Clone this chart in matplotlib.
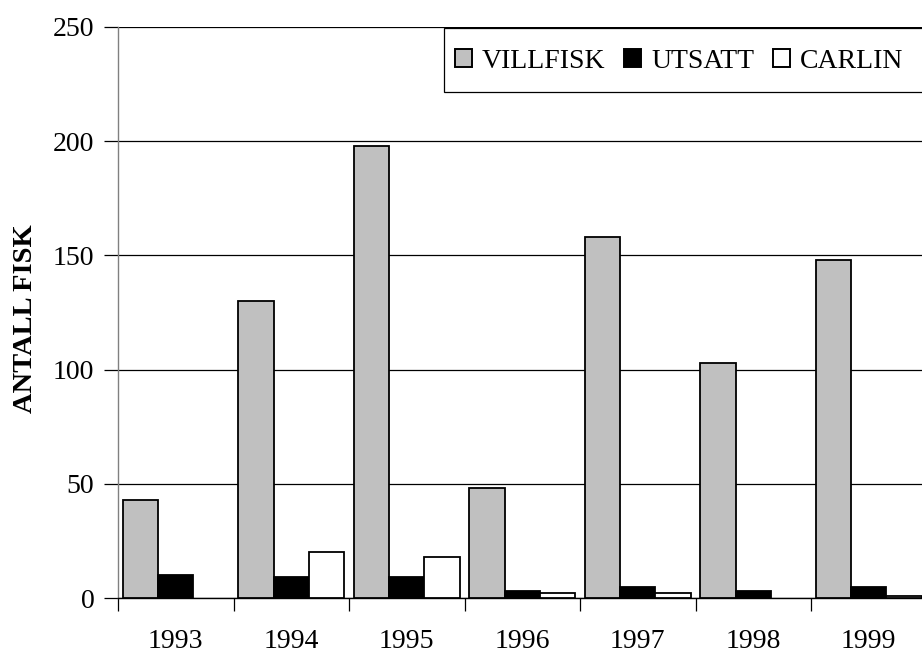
import matplotlib

matplotlib.use("Agg")

import matplotlib.pyplot as plt
import numpy as np
from matplotlib.patches import Patch, Rectangle

YEARS = ["1993", "1994", "1995", "1996", "1997", "1998", "1999"]
VILLFISK = [43, 130, 198, 48, 158, 103, 148]
UTSATT = [10, 9, 9, 3, 5, 3, 5]
CARLIN = [0, 20, 18, 2, 2, 0, 1]

SERIES = [
    ("VILLFISK", VILLFISK, "#c0c0c0"),
    ("UTSATT", UTSATT, "#000000"),
    ("CARLIN", CARLIN, "#ffffff"),
]


def main() -> None:
    plt.rcParams.update(
        {
            "font.family": ["Liberation Serif", "DejaVu Serif"],
            "font.size": 20,
        }
    )

    W, H = 922, 653
    fig = plt.figure(figsize=(W / 100, H / 100), dpi=100)
    left, right, top, bottom = 118, 926.5, 27, 598
    ax = fig.add_axes(
        [left / W, 1 - bottom / H, (right - left) / W, (bottom - top) / H]
    )

    x = np.arange(len(YEARS))
    width = 0.307
    handles = []
    for i, (name, values, color) in enumerate(SERIES):
        values = np.asarray(values, dtype=float)
        # zero-height bars leave no outline in the original
        lw = np.where(values > 0, 1.3, 0.0)
        ax.bar(
            x + (i - 1) * width,
            values,
            width=width,
            color=color,
            edgecolor="black",
            linewidth=lw,
            zorder=3,
        )
        handles.append(Patch(facecolor=color, edgecolor="black", linewidth=1.4, label=name))

    ax.set_xlim(-0.5, len(YEARS) - 0.5)
    ax.set_ylim(0, 250)
    ax.set_yticks(np.arange(0, 251, 50))
    ax.yaxis.grid(True, color="black", linewidth=0.9, zorder=0)
    ax.set_axisbelow(True)

    ax.set_xticks(np.arange(-0.5, len(YEARS), 1.0))
    ax.set_xticklabels([])
    ax.set_xticks(x, minor=True)
    ax.set_xticklabels(YEARS, minor=True)
    ax.tick_params(axis="x", which="major", direction="out", length=9, width=0.9)
    ax.tick_params(axis="x", which="minor", length=0, pad=22)
    ax.tick_params(axis="y", direction="out", length=10, width=0.9, pad=7)

    for side in ("top", "right"):
        ax.spines[side].set_visible(False)
    ax.spines["left"].set_color("#808080")
    ax.spines["left"].set_linewidth(1.0)
    ax.spines["bottom"].set_linewidth(1.0)

    ax.set_ylabel("ANTALL FISK", fontweight="bold", fontsize=20.5, labelpad=11)
    ax.yaxis.label.set_y(0.4895)

    # legend box: its right side runs off the image in the original
    ax.add_patch(
        Rectangle(
            (444 / W, 1 - 92 / H),
            (960 - 444) / W,
            64 / H,
            transform=fig.transFigure,
            facecolor="white",
            edgecolor="black",
            linewidth=0.9,
            clip_on=False,
            zorder=8,
        )
    )
    leg = ax.legend(
        handles=handles,
        loc="center left",
        bbox_to_anchor=(455 / W, 1 - 61 / H),
        bbox_transform=fig.transFigure,
        ncol=3,
        frameon=False,
        borderaxespad=0,
        borderpad=0,
        handlelength=0.61,
        handleheight=0.61,
        handletextpad=0.36,
        columnspacing=0.68,
        fontsize=20,
    )
    leg.set_zorder(9)

    fig.savefig("out.png", dpi=100, facecolor="white")


if __name__ == "__main__":
    main()
